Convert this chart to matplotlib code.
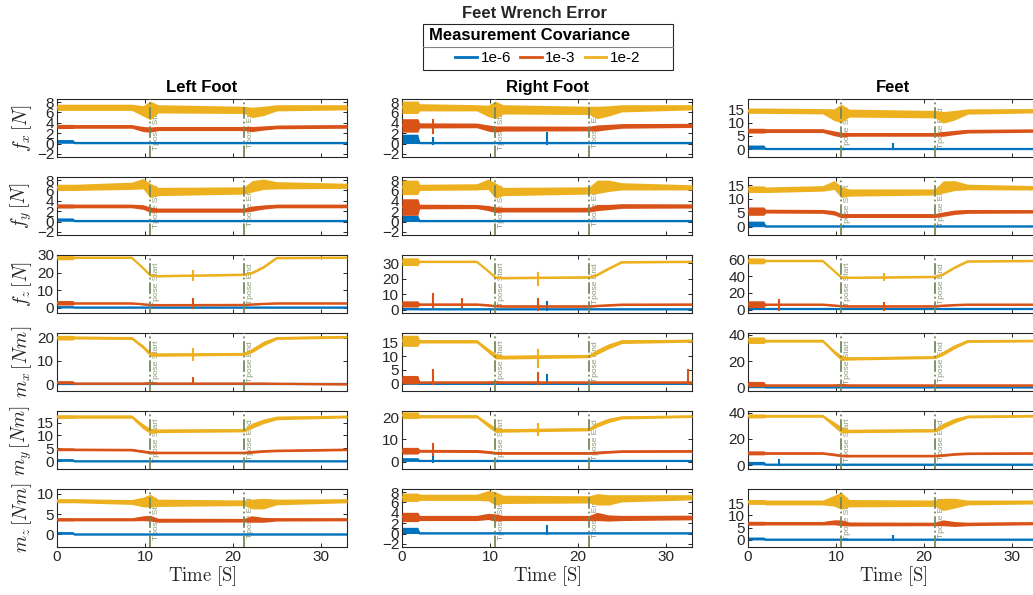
import matplotlib
matplotlib.use('Agg')
import matplotlib.pyplot as plt
from matplotlib.lines import Line2D
from matplotlib.patches import Rectangle
import matplotlib.transforms as mtransforms

plt.rcParams['font.family'] = ['Liberation Sans', 'DejaVu Sans']
plt.rcParams['mathtext.fontset'] = 'cm'

t_knots = [0.0, 1.8, 2.0, 8.5, 9.8, 10.6, 11.5, 21.3, 22.2, 23.5, 25.0, 33.0]
tpose_start = 10.6
tpose_end = 21.3
t_max = 33.0

covariances = ['1e-6', '1e-3', '1e-2']
colors = ['#0072BD', '#D95319', '#EDB120']
columns = ['Left Foot', 'Right Foot', 'Feet']
row_labels = [r'$f_x\,[N]$', r'$f_y\,[N]$', r'$f_z\,[N]$',
              r'$m_x\,[Nm]$', r'$m_y\,[Nm]$', r'$m_z\,[Nm]$']
x_ticks = [0, 10, 20, 30]

# each panel: covariance -> (centre values, half width of the noise band) at t_knots
left_fx = {
    '1e-6': ([0.4, 0.4, 0.1, 0.1, 0.1, 0.1, 0.1, 0.1, 0.1, 0.1, 0.1, 0.1],
             [0.35, 0.35, 0.12, 0.12, 0.12, 0.12, 0.12, 0.12, 0.12, 0.12, 0.12, 0.12]),
    '1e-3': ([3.3, 3.3, 3.3, 3.3, 2.8, 2.7, 2.9, 2.9, 2.8, 3.0, 3.2, 3.3],
             [0.4, 0.4, 0.35, 0.35, 0.5, 0.5, 0.4, 0.4, 0.5, 0.4, 0.35, 0.35]),
    '1e-2': ([7.0, 7.0, 7.0, 7.0, 6.3, 6.4, 6.7, 6.5, 6.0, 6.3, 6.9, 7.0],
             [0.6, 0.6, 0.6, 0.6, 1.0, 1.8, 0.8, 0.7, 1.0, 0.9, 0.6, 0.5]),
}
left_fy = {
    '1e-6': ([0.35, 0.35, 0.1, 0.1, 0.1, 0.1, 0.1, 0.1, 0.1, 0.1, 0.1, 0.1],
             [0.3, 0.3, 0.12, 0.12, 0.12, 0.12, 0.12, 0.12, 0.12, 0.12, 0.12, 0.12]),
    '1e-3': ([3.0, 3.0, 3.0, 3.0, 2.8, 2.3, 2.2, 2.2, 2.5, 2.8, 3.0, 3.0],
             [0.4, 0.4, 0.35, 0.35, 0.45, 0.5, 0.4, 0.4, 0.5, 0.4, 0.35, 0.35]),
    '1e-2': ([6.6, 6.6, 6.6, 6.9, 7.3, 6.0, 5.8, 6.0, 6.8, 7.2, 7.0, 6.9],
             [0.6, 0.6, 0.6, 0.7, 1.0, 1.4, 0.8, 0.7, 1.1, 1.0, 0.7, 0.5]),
}
left_fz = {
    '1e-6': ([0.3, 0.3, 0.1, 0.1, 0.1, 0.1, 0.1, 0.1, 0.1, 0.1, 0.1, 0.1],
             [0.3, 0.3, 0.2, 0.2, 0.2, 0.2, 0.2, 0.2, 0.2, 0.2, 0.2, 0.2]),
    '1e-3': ([2.8, 2.8, 2.5, 2.5, 2.0, 1.6, 1.5, 1.6, 1.9, 2.2, 2.5, 2.5],
             [1.3, 1.3, 0.4, 0.4, 0.4, 0.5, 0.4, 0.4, 0.4, 0.4, 0.4, 0.4]),
    '1e-2': ([28.5, 28.5, 28.5, 28.5, 22.5, 18.5, 18.0, 18.8, 19.8, 23.0, 28.3, 28.5],
             [1.2, 1.2, 0.5, 0.5, 0.5, 0.6, 0.5, 0.5, 0.5, 0.5, 0.5, 0.5]),
}
left_mx = {
    '1e-6': ([0.0, 0.0, 0.0, 0.0, 0.0, 0.0, 0.0, 0.0, 0.0, 0.0, 0.0, 0.0],
             [0.15, 0.15, 0.15, 0.15, 0.15, 0.15, 0.15, 0.15, 0.15, 0.15, 0.15, 0.15]),
    '1e-3': ([0.8, 0.8, 0.3, 0.3, 0.3, 0.5, 0.3, 0.3, 0.3, 0.3, 0.2, 0.0],
             [0.6, 0.6, 0.3, 0.3, 0.3, 0.4, 0.3, 0.3, 0.3, 0.3, 0.3, 0.3]),
    '1e-2': ([20.0, 20.0, 20.0, 19.8, 16.0, 13.0, 12.7, 13.0, 14.5, 17.5, 19.8, 20.3],
             [1.0, 1.0, 0.6, 0.6, 0.8, 1.0, 0.7, 0.6, 0.9, 1.0, 0.6, 0.5]),
}
left_my = {
    '1e-6': ([0.4, 0.4, 0.0, 0.0, 0.0, 0.0, 0.0, 0.0, 0.0, 0.0, 0.0, 0.0],
             [0.4, 0.4, 0.15, 0.15, 0.15, 0.15, 0.15, 0.15, 0.15, 0.15, 0.15, 0.15]),
    '1e-3': ([4.6, 4.6, 4.5, 4.4, 3.8, 3.4, 3.3, 3.3, 3.6, 3.9, 4.1, 4.5],
             [0.5, 0.5, 0.4, 0.4, 0.5, 0.5, 0.4, 0.4, 0.5, 0.4, 0.4, 0.4]),
    '1e-2': ([17.3, 17.3, 17.3, 17.3, 13.5, 11.8, 11.8, 12.0, 13.8, 15.5, 16.8, 17.3],
             [0.7, 0.7, 0.6, 0.6, 1.0, 1.0, 0.7, 0.6, 1.0, 0.9, 0.7, 0.5]),
}
left_mz = {
    '1e-6': ([0.3, 0.3, 0.0, 0.0, 0.0, 0.0, 0.0, 0.0, 0.0, 0.0, 0.0, 0.0],
             [0.25, 0.25, 0.1, 0.1, 0.1, 0.1, 0.1, 0.1, 0.1, 0.1, 0.1, 0.1]),
    '1e-3': ([3.7, 3.7, 3.7, 3.7, 4.0, 4.0, 3.5, 3.5, 3.8, 3.6, 3.7, 3.7],
             [0.4, 0.4, 0.35, 0.35, 0.6, 0.7, 0.5, 0.45, 0.8, 0.6, 0.4, 0.35]),
    '1e-2': ([8.3, 8.3, 8.3, 8.0, 8.0, 8.3, 7.8, 7.8, 7.5, 7.6, 8.0, 8.3],
             [0.5, 0.5, 0.5, 0.6, 1.2, 1.6, 0.9, 0.7, 1.2, 1.3, 0.7, 0.5]),
}

right_fx = {
    '1e-6': ([0.9, 0.9, 0.1, 0.1, 0.1, 0.1, 0.1, 0.1, 0.1, 0.1, 0.1, 0.1],
             [0.9, 0.9, 0.12, 0.12, 0.12, 0.12, 0.12, 0.12, 0.12, 0.12, 0.12, 0.12]),
    '1e-3': ([3.5, 3.5, 3.5, 3.5, 3.0, 2.8, 2.9, 2.9, 3.0, 3.2, 3.4, 3.5],
             [1.3, 1.3, 0.5, 0.45, 0.6, 0.6, 0.5, 0.45, 0.6, 0.5, 0.45, 0.4]),
    '1e-2': ([7.0, 7.0, 7.0, 6.9, 6.3, 6.5, 6.6, 6.4, 6.0, 6.3, 6.8, 7.0],
             [1.2, 1.2, 0.7, 0.6, 1.1, 1.7, 0.9, 0.8, 1.2, 1.0, 0.7, 0.5]),
}
right_fy = {
    '1e-6': ([0.6, 0.6, 0.1, 0.1, 0.1, 0.1, 0.1, 0.1, 0.1, 0.1, 0.1, 0.1],
             [0.6, 0.6, 0.12, 0.12, 0.12, 0.12, 0.12, 0.12, 0.12, 0.12, 0.12, 0.12]),
    '1e-3': ([2.8, 2.8, 2.9, 2.9, 2.6, 2.3, 2.3, 2.3, 2.7, 2.8, 3.0, 3.0],
             [1.6, 1.6, 0.45, 0.4, 0.5, 0.55, 0.45, 0.45, 0.6, 0.5, 0.45, 0.4]),
    '1e-2': ([6.6, 6.6, 6.6, 6.7, 7.2, 6.0, 5.8, 6.0, 6.7, 6.9, 6.8, 6.6],
             [1.4, 1.4, 0.6, 0.6, 1.0, 1.5, 0.8, 0.7, 1.3, 1.1, 0.7, 0.5]),
}
right_fz = {
    '1e-6': ([0.5, 0.5, 0.4, 0.4, 0.4, 0.4, 0.4, 0.4, 0.4, 0.4, 0.4, 0.4],
             [0.4, 0.4, 0.25, 0.25, 0.25, 0.25, 0.25, 0.25, 0.25, 0.25, 0.25, 0.25]),
    '1e-3': ([3.8, 3.8, 3.5, 3.5, 3.0, 2.5, 2.3, 2.3, 2.6, 3.0, 3.4, 3.5],
             [2.0, 2.0, 0.6, 0.6, 0.6, 0.6, 0.6, 0.6, 0.6, 0.6, 0.6, 0.6]),
    '1e-2': ([31.0, 31.0, 31.0, 31.0, 25.0, 21.0, 20.5, 21.0, 22.5, 26.5, 30.7, 31.0],
             [2.5, 2.5, 0.6, 0.6, 0.6, 0.7, 0.6, 0.6, 0.6, 0.6, 0.6, 0.6]),
}
right_mx = {
    '1e-6': ([0.1, 0.1, 0.0, 0.0, 0.0, 0.0, 0.0, 0.0, 0.0, 0.0, 0.0, 0.0],
             [0.2, 0.2, 0.15, 0.15, 0.15, 0.15, 0.15, 0.15, 0.15, 0.15, 0.15, 0.15]),
    '1e-3': ([1.5, 1.5, 0.5, 0.5, 0.5, 0.6, 0.5, 0.5, 0.5, 0.5, 0.5, 0.5],
             [1.5, 1.5, 0.3, 0.3, 0.3, 0.4, 0.3, 0.3, 0.3, 0.3, 0.3, 0.3]),
    '1e-2': ([15.5, 15.5, 15.3, 15.3, 12.0, 10.0, 9.6, 10.0, 11.5, 13.5, 15.2, 15.5],
             [2.0, 2.0, 0.6, 0.6, 0.8, 1.0, 0.7, 0.6, 0.9, 0.9, 0.7, 0.5]),
}
right_my = {
    '1e-6': ([0.9, 0.9, 0.3, 0.3, 0.3, 0.3, 0.3, 0.3, 0.3, 0.3, 0.3, 0.3],
             [0.8, 0.8, 0.2, 0.2, 0.2, 0.2, 0.2, 0.2, 0.2, 0.2, 0.2, 0.2]),
    '1e-3': ([4.9, 4.9, 4.8, 4.7, 4.3, 3.9, 3.8, 3.8, 4.0, 4.3, 4.6, 4.7],
             [1.5, 1.5, 0.6, 0.6, 0.6, 0.6, 0.5, 0.5, 0.6, 0.5, 0.5, 0.5]),
    '1e-2': ([20.8, 20.8, 20.3, 20.3, 16.5, 14.3, 14.0, 14.5, 16.5, 18.5, 19.8, 20.3],
             [1.5, 1.5, 0.7, 0.7, 1.0, 1.2, 0.8, 0.7, 1.0, 1.0, 0.7, 0.5]),
}
right_mz = {
    '1e-6': ([0.6, 0.6, 0.05, 0.05, 0.05, 0.05, 0.05, 0.05, 0.05, 0.05, 0.05, 0.05],
             [0.6, 0.6, 0.1, 0.1, 0.1, 0.1, 0.1, 0.1, 0.1, 0.1, 0.1, 0.1]),
    '1e-3': ([3.2, 3.2, 3.0, 3.0, 3.3, 3.1, 3.0, 3.0, 3.3, 3.0, 3.0, 3.1],
             [0.9, 0.9, 0.5, 0.5, 0.6, 0.7, 0.5, 0.5, 0.8, 0.6, 0.5, 0.45]),
    '1e-2': ([7.0, 7.0, 7.0, 7.0, 7.3, 6.8, 6.6, 6.6, 6.6, 6.5, 6.8, 7.0],
             [0.8, 0.8, 0.6, 0.6, 1.0, 1.3, 0.8, 0.7, 1.1, 1.0, 0.7, 0.5]),
}

feet_fx = {
    '1e-6': ([0.8, 0.8, 0.1, 0.1, 0.1, 0.1, 0.1, 0.1, 0.1, 0.1, 0.1, 0.1],
             [0.8, 0.8, 0.15, 0.15, 0.15, 0.15, 0.15, 0.15, 0.15, 0.15, 0.15, 0.15]),
    '1e-3': ([7.0, 7.0, 7.0, 7.0, 6.0, 5.5, 5.6, 5.6, 5.8, 6.3, 6.8, 7.0],
             [0.9, 0.9, 0.7, 0.7, 0.9, 0.9, 0.7, 0.7, 0.9, 0.8, 0.7, 0.6]),
    '1e-2': ([14.5, 14.5, 14.5, 14.3, 13.0, 13.5, 13.6, 13.2, 12.0, 12.8, 14.2, 14.5],
             [1.0, 1.0, 1.0, 1.0, 2.2, 3.5, 1.5, 1.4, 2.2, 1.8, 1.0, 0.8]),
}
feet_fy = {
    '1e-6': ([1.0, 1.0, 0.1, 0.1, 0.1, 0.1, 0.1, 0.1, 0.1, 0.1, 0.1, 0.1],
             [1.0, 1.0, 0.15, 0.15, 0.15, 0.15, 0.15, 0.15, 0.15, 0.15, 0.15, 0.15]),
    '1e-3': ([5.6, 5.6, 5.6, 5.5, 5.0, 4.0, 4.0, 4.0, 4.5, 5.2, 5.5, 5.5],
             [1.5, 1.5, 0.7, 0.7, 0.8, 0.8, 0.7, 0.7, 0.8, 0.8, 0.7, 0.6]),
    '1e-2': ([13.5, 13.5, 13.3, 13.8, 15.0, 12.5, 12.3, 12.5, 14.3, 14.8, 14.3, 14.0],
             [1.2, 1.2, 1.0, 1.0, 1.6, 2.0, 1.3, 1.1, 2.2, 1.8, 1.0, 0.8]),
}
feet_fz = {
    '1e-6': ([1.0, 1.0, 1.0, 1.0, 1.0, 1.0, 1.0, 1.0, 1.0, 1.0, 1.0, 1.0],
             [0.6, 0.6, 0.4, 0.4, 0.4, 0.4, 0.4, 0.4, 0.4, 0.4, 0.4, 0.4]),
    '1e-3': ([6.5, 6.5, 6.0, 6.0, 5.0, 4.2, 4.0, 4.0, 4.8, 5.5, 6.0, 6.0],
             [4.0, 4.0, 1.0, 1.0, 1.0, 1.0, 1.0, 1.0, 1.0, 1.0, 1.0, 1.0]),
    '1e-2': ([58.0, 58.0, 58.0, 58.0, 46.0, 38.5, 38.0, 39.0, 42.0, 50.0, 57.5, 58.0],
             [3.5, 3.5, 1.0, 1.0, 1.0, 1.2, 1.0, 1.0, 1.0, 1.0, 1.0, 1.0]),
}
feet_mx = {
    '1e-6': ([0.2, 0.2, 0.0, 0.0, 0.0, 0.0, 0.0, 0.0, 0.0, 0.0, 0.0, 0.0],
             [0.3, 0.3, 0.25, 0.25, 0.25, 0.25, 0.25, 0.25, 0.25, 0.25, 0.25, 0.25]),
    '1e-3': ([2.5, 2.5, 1.5, 1.5, 1.5, 1.8, 1.5, 1.5, 1.5, 1.5, 1.5, 1.5],
             [2.0, 2.0, 0.6, 0.6, 0.6, 0.8, 0.6, 0.6, 0.6, 0.6, 0.6, 0.6]),
    '1e-2': ([36.0, 36.0, 35.5, 35.5, 27.0, 22.5, 22.0, 23.0, 26.0, 31.0, 35.3, 35.5],
             [2.5, 2.5, 1.0, 1.0, 1.5, 2.0, 1.2, 1.0, 1.5, 1.5, 1.0, 0.8]),
}
feet_my = {
    '1e-6': ([1.5, 1.5, 0.3, 0.3, 0.3, 0.3, 0.3, 0.3, 0.3, 0.3, 0.3, 0.3],
             [1.3, 1.3, 0.3, 0.3, 0.3, 0.3, 0.3, 0.3, 0.3, 0.3, 0.3, 0.3]),
    '1e-3': ([9.3, 9.3, 9.0, 9.0, 8.0, 7.2, 7.0, 7.0, 7.5, 8.3, 8.8, 9.0],
             [1.5, 1.5, 0.8, 0.8, 0.9, 0.9, 0.8, 0.8, 0.9, 0.8, 0.8, 0.8]),
    '1e-2': ([37.5, 37.5, 37.5, 37.5, 31.0, 27.0, 26.0, 26.5, 30.0, 34.0, 37.0, 37.5],
             [1.5, 1.5, 1.0, 1.0, 2.0, 2.5, 1.3, 1.2, 2.0, 1.8, 1.0, 0.8]),
}
feet_mz = {
    '1e-6': ([0.5, 0.5, 0.1, 0.1, 0.1, 0.1, 0.1, 0.1, 0.1, 0.1, 0.1, 0.1],
             [0.5, 0.5, 0.15, 0.15, 0.15, 0.15, 0.15, 0.15, 0.15, 0.15, 0.15, 0.15]),
    '1e-3': ([6.8, 6.8, 6.8, 6.8, 7.2, 7.0, 6.5, 6.5, 7.0, 6.5, 6.5, 6.8],
             [0.8, 0.8, 0.7, 0.7, 1.0, 1.2, 0.8, 0.7, 1.2, 1.0, 0.7, 0.6]),
    '1e-2': ([15.5, 15.5, 15.3, 15.3, 16.0, 16.0, 15.0, 15.0, 14.5, 15.0, 15.3, 15.5],
             [1.0, 1.0, 1.0, 1.0, 2.2, 3.5, 1.5, 1.3, 2.5, 2.0, 1.0, 0.8]),
}

panels = [
    [left_fx, left_fy, left_fz, left_mx, left_my, left_mz],
    [right_fx, right_fy, right_fz, right_mx, right_my, right_mz],
    [feet_fx, feet_fy, feet_fz, feet_mx, feet_my, feet_mz],
]

# y limits and ticks, per column and row
y_limits = [
    [(-2.6, 8.6), (-2.6, 8.6), (-3, 30), (-2.9, 22), (-3, 19.5), (-3.1, 11.2)],
    [(-2.6, 8.6), (-2.6, 8.6), (-2, 35.3), (-2.6, 18.3), (-3.3, 22.7), (-2.6, 8.6)],
    [(-2.9, 18.9), (-3, 17.9), (-4, 65), (-2.8, 41.5), (-3, 41.3), (-2.9, 20.8)],
]
y_ticks = [
    [[-2, 0, 2, 4, 6, 8], [-2, 0, 2, 4, 6, 8], [0, 10, 20, 30], [0, 10, 20], [0, 5, 10, 15], [0, 5, 10]],
    [[-2, 0, 2, 4, 6, 8], [-2, 0, 2, 4, 6, 8], [0, 10, 20, 30], [0, 5, 10, 15], [0, 10, 20], [-2, 0, 2, 4, 6, 8]],
    [[0, 5, 10, 15], [0, 5, 10, 15], [0, 20, 40, 60], [0, 20, 40], [0, 20, 40], [0, 5, 10, 15]],
]

# isolated spikes: (column, row, covariance index, time, low, high)
spikes = [
    (0, 2, 2, 15.5, 16.0, 21.0), (0, 2, 1, 15.5, 0.0, 5.0), (0, 3, 2, 15.5, 10.5, 15.0),
    (0, 3, 1, 15.5, 0.0, 2.5),
    (1, 0, 0, 16.5, 0.0, 2.0), (1, 0, 0, 3.5, 0.0, 1.0), (1, 0, 1, 3.5, 2.0, 4.5),
    (1, 2, 2, 15.5, 16.0, 24.0), (1, 2, 1, 3.5, 2.0, 10.0), (1, 2, 1, 15.5, 0.0, 7.0),
    (1, 2, 0, 16.5, 0.0, 5.0), (1, 2, 1, 6.8, 2.0, 7.0),
    (1, 3, 1, 3.5, 0.0, 5.0), (1, 3, 1, 15.5, 0.0, 4.0), (1, 3, 1, 32.5, 0.0, 5.0),
    (1, 3, 0, 16.5, 0.0, 3.0), (1, 3, 2, 15.5, 6.0, 12.0),
    (1, 4, 1, 3.5, 3.0, 8.0), (1, 4, 0, 3.5, 0.0, 3.0), (1, 4, 2, 15.5, 12.0, 17.0),
    (1, 5, 0, 16.5, 0.0, 1.5),
    (2, 0, 0, 16.5, 0.0, 2.0), (2, 2, 2, 15.5, 35.0, 42.0), (2, 2, 1, 3.5, 0.0, 12.0),
    (2, 2, 1, 15.5, 0.0, 8.0), (2, 4, 0, 3.5, 0.0, 3.5), (2, 5, 0, 16.5, 0.0, 1.5),
]

fig = plt.figure(figsize=(10.33, 5.95), dpi=100)
W, H = 1033.0, 595.0
col_left = [57, 402, 748]
row_top = [99, 177, 255, 333, 411, 489]
ax_w, ax_h = 290, 58
dark = '#262626'
tpose_color = '#76895A'

for c in range(3):
    for r in range(6):
        ax = fig.add_axes([col_left[c] / W, 1 - (row_top[r] + ax_h) / H, ax_w / W, ax_h / H])
        data = panels[c][r]
        for k, cov in enumerate(covariances):
            centre, half = data[cov]
            lo = [m - h for m, h in zip(centre, half)]
            hi = [m + h for m, h in zip(centre, half)]
            ax.fill_between(t_knots, lo, hi, color=colors[k], lw=0, zorder=2 + k)
            ax.plot(t_knots, centre, color=colors[k], lw=1.6, zorder=2 + k)
        for (sc, sr, sk, st, slo, shi) in spikes:
            if sc == c and sr == r:
                ax.plot([st, st], [slo, shi], color=colors[sk], lw=1.5, zorder=2 + sk)

        trans = mtransforms.blended_transform_factory(ax.transData, ax.transAxes)
        for xv, lab in [(tpose_start, 'Tpose Start'), (tpose_end, 'Tpose End')]:
            ax.axvline(xv, color=tpose_color, ls='-.', lw=1.3, zorder=6)
            ax.text(xv + 0.35, 0.5, lab, transform=trans, rotation=90, fontsize=6,
                    color='#8A9A78', ha='left', va='center', zorder=1)

        ax.set_xlim(0, t_max)
        ax.set_ylim(*y_limits[c][r])
        ax.set_xticks(x_ticks)
        ax.set_yticks(y_ticks[c][r])
        ax.tick_params(direction='in', top=True, right=True, length=3, width=0.7,
                       labelsize=11, colors=dark, pad=2)
        for sp in ax.spines.values():
            sp.set_color(dark)
            sp.set_linewidth(0.8)
        if r < 5:
            ax.set_xticklabels([])
        else:
            ax.set_xlabel(r'$\mathrm{Time\ [S]}$', fontsize=13.5, color=dark, labelpad=0)
        if c == 0:
            ax.set_ylabel(row_labels[r], fontsize=14, color=dark, labelpad=2)
        if r == 0:
            ax.set_title(columns[c], fontsize=12, fontweight='bold', color='black', pad=5)

fig.text(534 / W, 1 - 13 / H, 'Feet Wrench Error', ha='center', va='center',
         fontsize=12, fontweight='bold', color=dark)

# legend box drawn the MATLAB way: title row, separator, entries row
fig.add_artist(Rectangle((423 / W, 1 - 70 / H), 250 / W, 46 / H, transform=fig.transFigure,
                         facecolor='white', edgecolor=dark, lw=0.8, zorder=5))
fig.add_artist(Line2D([423 / W, 673 / W], [1 - 47 / H, 1 - 47 / H], color='#808080', lw=0.8,
                      transform=fig.transFigure, zorder=6))
fig.text(530 / W, 1 - 35.5 / H, 'Measurement Covariance', ha='center', va='center',
         fontsize=12, fontweight='bold', color='black', zorder=7)
handles = [Line2D([], [], color=colors[k], lw=2) for k in range(3)]
leg = fig.legend(handles, covariances, loc='center', bbox_to_anchor=(548 / W, 1 - 58.5 / H),
                 ncol=3, fontsize=11, frameon=False, handlelength=1.4,
                 handletextpad=0.25, columnspacing=0.6, borderpad=0.0)
leg.set_zorder(8)

fig.savefig('out.png', dpi=100)
